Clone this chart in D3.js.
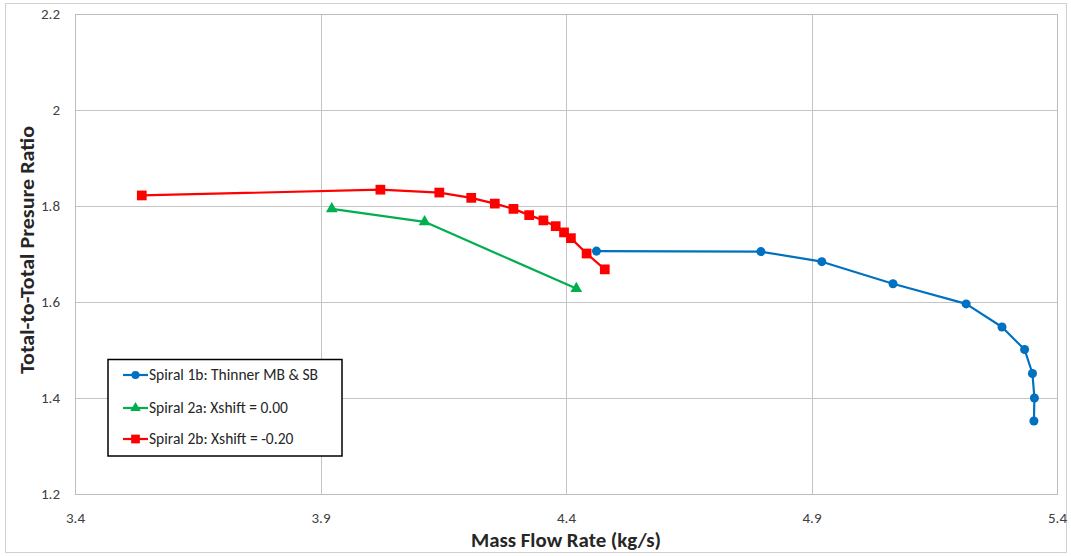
<!DOCTYPE html>
<html><head><meta charset="utf-8">
<script src="https://cdn.jsdelivr.net/npm/d3@7"></script>
<style>body{margin:0;background:#fff;}svg{display:block;}</style>
</head><body>
<svg id="c" width="1071" height="556"></svg>
<script>
const xTicks = [3.4, 3.9, 4.4, 4.9, 5.4];
const yTicks = [1.2, 1.4, 1.6, 1.8, 2.0, 2.2];
const yTickLabels = ["1.2", "1.4", "1.6", "1.8", "2", "2.2"];

const s1bX = [4.462, 4.797, 4.921, 5.066, 5.215, 5.288, 5.334, 5.350, 5.354, 5.353];
const s1bY = [1.706, 1.705, 1.684, 1.638, 1.596, 1.548, 1.501, 1.451, 1.400, 1.352];
const s2aX = [3.923, 4.112, 4.421];
const s2aY = [1.794, 1.767, 1.628];
const s2bX = [3.536, 4.022, 4.142, 4.207, 4.255, 4.293, 4.325, 4.354, 4.379, 4.396, 4.410, 4.442, 4.479];
const s2bY = [1.822, 1.834, 1.828, 1.817, 1.805, 1.794, 1.781, 1.770, 1.758, 1.745, 1.733, 1.701, 1.668];

const seriesNames = ["Spiral 1b: Thinner MB & SB", "Spiral 2a: Xshift = 0.00", "Spiral 2b: Xshift = -0.20"];
const seriesColors = ["#0070C0", "#00B050", "#FF0000"];
const seriesSymbols = [d3.symbolCircle, d3.symbolTriangle, d3.symbolSquare];
const symbolSizes = [64, 60, 95];

const series = [
  {name: seriesNames[0], xs: s1bX, ys: s1bY},
  {name: seriesNames[1], xs: s2aX, ys: s2aY},
  {name: seriesNames[2], xs: s2bX, ys: s2bY}
];

const svg = d3.select("#c");
const font = "Carlito, Lato, 'Liberation Sans', sans-serif";
const L = 75, R = 1057, T = 14, B = 494;
const x = d3.scaleLinear().domain([3.4, 5.4]).range([L, R]);
const y = d3.scaleLinear().domain([1.2, 2.2]).range([B, T]);

// outer chart frame
svg.append("rect").attr("x", 5.5).attr("y", 3.5).attr("width", 1061).attr("height", 549)
  .attr("fill", "#fff").attr("stroke", "#d0d0d0").attr("stroke-width", 1);

// grid
const gx = svg.append("g").attr("transform", `translate(0,${B})`)
  .call(d3.axisBottom(x).tickValues(xTicks).tickSize(-(B - T)).tickFormat(""));
gx.select(".domain").remove();
gx.selectAll("line").attr("stroke", "#c4c4c4").attr("shape-rendering", "crispEdges");
const gy = svg.append("g").attr("transform", `translate(${L},0)`)
  .call(d3.axisLeft(y).tickValues(yTicks).tickSize(-(R - L)).tickFormat(""));
gy.select(".domain").remove();
gy.selectAll("line").attr("stroke", "#c4c4c4").attr("shape-rendering", "crispEdges");

// plot border
svg.append("rect").attr("x", L).attr("y", T).attr("width", R - L).attr("height", B - T)
  .attr("fill", "none").attr("stroke", "#bdbdbd").attr("shape-rendering", "crispEdges");

// tick labels
const xl = svg.append("g").attr("transform", `translate(0,${B + 24})`)
  .call(d3.axisBottom(x).tickValues(xTicks).tickSize(0).tickPadding(0).tickFormat(d3.format(".1f")));
xl.select(".domain").remove();
xl.selectAll("text").attr("font-family", font).attr("font-size", 15).attr("fill", "#404040").attr("dy", "0.35em");
const yl = svg.append("g").attr("transform", `translate(${L - 15},0)`)
  .call(d3.axisLeft(y).tickValues(yTicks).tickSize(0).tickPadding(0).tickFormat((d, i) => yTickLabels[i]));
yl.select(".domain").remove();
yl.selectAll("text").attr("font-family", font).attr("font-size", 15).attr("fill", "#404040");

// axis titles
svg.append("text").attr("x", 566).attr("y", 547).attr("text-anchor", "middle")
  .attr("font-family", font).attr("font-size", 21).attr("font-weight", "bold").attr("fill", "#262626")
  .attr("textLength", 190).attr("lengthAdjust", "spacingAndGlyphs")
  .text("Mass Flow Rate (kg/s)");
svg.append("text").attr("transform", "translate(34,250) rotate(-90)").attr("text-anchor", "middle")
  .attr("font-family", font).attr("font-size", 21).attr("font-weight", "bold").attr("fill", "#262626")
  .attr("textLength", 248).attr("lengthAdjust", "spacingAndGlyphs")
  .text("Total-to-Total Presure Ratio");

// series
const line = d3.line().x(d => x(d[0])).y(d => y(d[1]));
series.forEach((s, i) => {
  const pts = s.xs.map((v, j) => [v, s.ys[j]]);
  svg.append("path").datum(pts).attr("d", line).attr("fill", "none")
    .attr("stroke", seriesColors[i]).attr("stroke-width", 2.2).attr("stroke-linejoin", "round");
  svg.append("g").selectAll("path").data(pts).join("path")
    .attr("d", d3.symbol(seriesSymbols[i], symbolSizes[i]))
    .attr("transform", d => `translate(${x(d[0])},${y(d[1])})`)
    .attr("fill", seriesColors[i]);
});

// legend
const lg = svg.append("g");
lg.append("rect").attr("x", 108).attr("y", 359.5).attr("width", 234).attr("height", 96.5)
  .attr("fill", "#fff").attr("stroke", "#000").attr("stroke-width", 1.5);
const ly = [375, 408, 439];
series.forEach((s, i) => {
  lg.append("line").attr("x1", 123).attr("x2", 148).attr("y1", ly[i]).attr("y2", ly[i])
    .attr("stroke", seriesColors[i]).attr("stroke-width", 2.2);
  lg.append("path").attr("d", d3.symbol(seriesSymbols[i], symbolSizes[i] * 0.8))
    .attr("transform", `translate(135.5,${ly[i]})`).attr("fill", seriesColors[i]);
  lg.append("text").attr("x", 149).attr("y", ly[i]).attr("dy", "0.35em")
    .attr("font-family", font).attr("font-size", 15.5).attr("fill", "#262626").text(s.name);
});
</script>
</body></html>
